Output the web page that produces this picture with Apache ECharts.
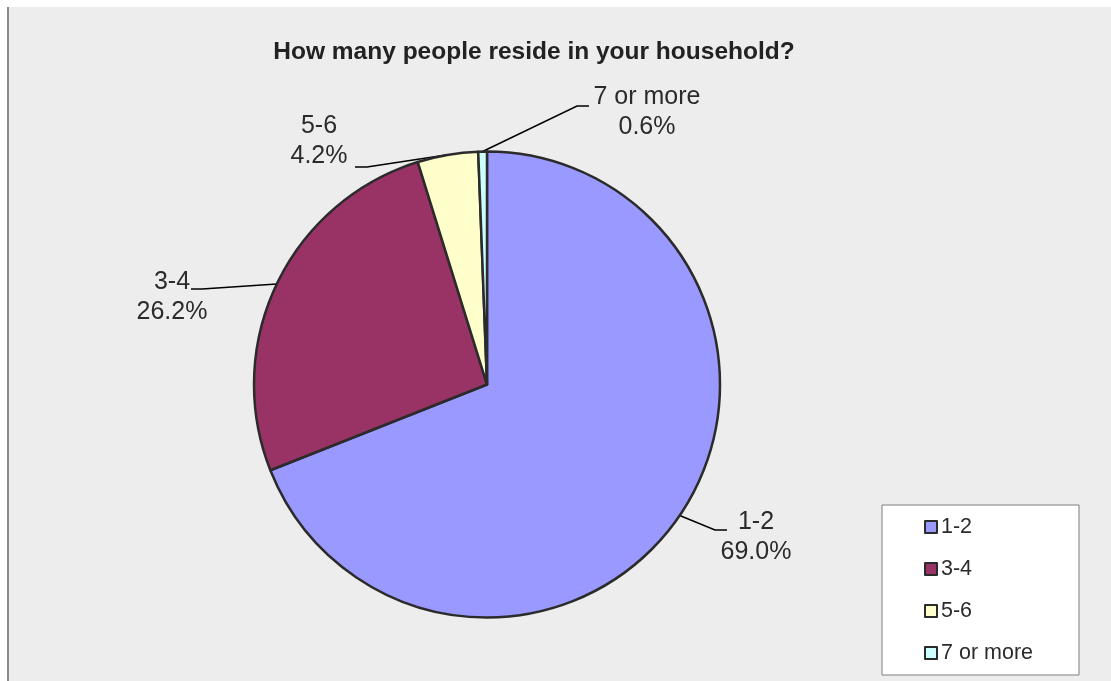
<!DOCTYPE html>
<html>
<head>
<meta charset="utf-8">
<script src="https://cdn.jsdelivr.net/npm/echarts@6/dist/echarts.min.js"></script>
<style>
  html, body { margin: 0; padding: 0; background: #ffffff; }
  #chart { width: 1111px; height: 681px; }
</style>
</head>
<body>
<div id="chart"></div>
<script>
// Household size survey: share of respondents per household size (percent)
const categories = ['1-2', '3-4', '5-6', '7 or more'];
const shares = [69.0, 26.2, 4.2, 0.6];
const titleText = 'How many people reside in your household?';

// Slice fills, in category order
const sliceColors = ['#9999ff', '#993366', '#ffffcc', '#ccffff'];

// Where each callout sits: label centre, elbow of the leader line, and its end
const calloutLayout = [
  { cx: 756, cy: 537, elbow: [715, 530], end: [727, 530] },
  { cx: 172, cy: 297, elbow: [202, 289], end: [191, 289] },
  { cx: 319, cy: 141, elbow: [367, 167], end: [355, 167] },
  { cx: 647, cy: 112, elbow: [577, 106], end: [589, 106] }
];

const FONT = '"Liberation Sans", Arial, sans-serif';
const TEXT = '#2b2b2b';

const chart = echarts.init(document.getElementById('chart'), null, { renderer: 'canvas' });

chart.setOption({
  backgroundColor: '#ffffff',
  animation: false,
  graphic: [
    {
      type: 'rect', z: -10, silent: true,
      shape: { x: 8, y: 7, width: 1103, height: 674 },
      style: { fill: '#ededed' }
    },
    {
      type: 'line', z: -9, silent: true,
      shape: { x1: 8, y1: 7, x2: 8, y2: 681 },
      style: { stroke: '#8a8a8a', lineWidth: 2 }
    }
  ],
  title: {
    text: titleText,
    left: 534,
    top: 39,
    padding: 0,
    textAlign: 'center',
    textStyle: {
      fontFamily: FONT,
      fontSize: 24.5,
      fontWeight: 'bold',
      color: '#222222',
      lineHeight: 26
    }
  },
  legend: {
    orient: 'vertical',
    left: 882,
    top: 505,
    backgroundColor: '#ffffff',
    borderColor: '#7f7f7f',
    borderWidth: 1,
    borderRadius: 0,
    padding: [11, 46, 11, 42],
    itemWidth: 12,
    itemHeight: 12,
    itemGap: 20,
    icon: 'rect',
    itemStyle: { borderColor: '#2b2b2b', borderWidth: 2 },
    textStyle: {
      fontFamily: FONT,
      fontSize: 21.5,
      color: TEXT,
      lineHeight: 22,
      padding: [0, 0, 0, -1]
    },
    data: categories
  },
  series: [
    {
      type: 'pie',
      center: [487, 384.5],
      radius: 233,
      startAngle: 90,
      clockwise: true,
      avoidLabelOverlap: false,
      itemStyle: { borderColor: '#2b2b2b', borderWidth: 2.5 },
      emphasis: { disabled: true },
      label: {
        show: true,
        position: 'outside',
        fontFamily: FONT,
        fontSize: 25,
        lineHeight: 30,
        color: TEXT,
        align: 'center',
        formatter: p => p.name + '\n' + p.value.toFixed(1) + '%'
      },
      labelLine: {
        show: true,
        length: 20,
        length2: 10,
        lineStyle: { color: '#000000', width: 1.5 }
      },
      labelLayout: params => {
        const c = calloutLayout[params.dataIndex];
        const start = params.labelLinePoints ? params.labelLinePoints[0] : c.elbow;
        return {
          x: c.cx,
          y: c.cy,
          align: 'center',
          verticalAlign: 'middle',
          labelLinePoints: [start, c.elbow, c.end]
        };
      },
      data: categories.map((name, i) => ({
        name: name,
        value: shares[i],
        itemStyle: { color: sliceColors[i] }
      }))
    }
  ]
});
</script>
</body>
</html>
